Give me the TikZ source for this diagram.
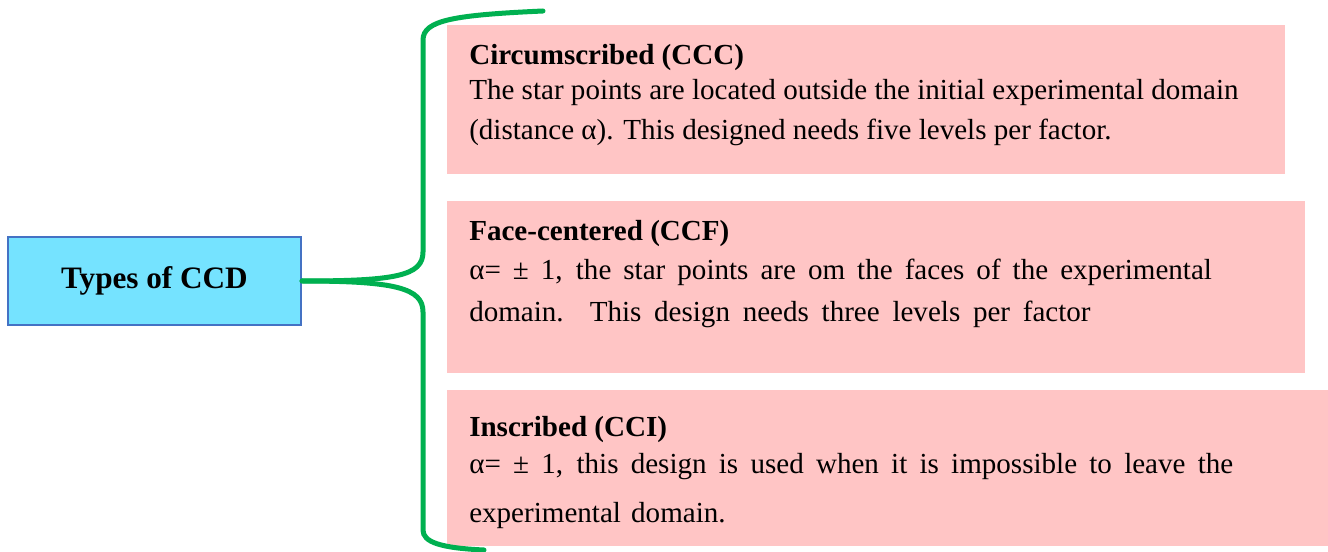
\documentclass[tikz,border=0pt]{standalone}
\usepackage{fontspec}
\setmainfont{Liberation Serif}
\definecolor{boxpink}{RGB}{255,197,197}
\definecolor{ccdfill}{RGB}{117,227,255}
\definecolor{ccdborder}{RGB}{68,114,196}
\definecolor{bracegreen}{RGB}{0,176,80}
\begin{document}
\begin{tikzpicture}[x=0.75pt,y=-0.75pt,
  pinkbox/.style={fill=boxpink, draw=none, anchor=north west, inner sep=0pt},
  ccdbox/.style={fill=ccdfill, draw=ccdborder, line width=1.5pt, inner sep=0pt,
    minimum width=219.75pt, minimum height=66pt,
    font=\fontsize{23.4}{26}\selectfont\bfseries},
  txt/.style={anchor=base west, inner sep=0pt, font=\fontsize{21.8}{26}\selectfont},
  ttl/.style={txt, font=\fontsize{21.8}{26}\selectfont\bfseries},
  bracepath/.style={draw=bracegreen, line width=3.75pt, line cap=round}]
\useasboundingbox (0,0) rectangle (1328,552);
% boxes
\node[pinkbox, minimum width=628.5pt, minimum height=111.75pt] (b1) at (447,25) {};
\node[pinkbox, minimum width=643.5pt, minimum height=129pt] (b2) at (447,201) {};
\node[pinkbox, minimum width=660.75pt, minimum height=117pt] (b3) at (447,390) {};
\node[ccdbox] (ccd) at (154.5,281) {Types of CCD};
% texts box 1
\node[ttl] (t1) at (469,65) {Circumscribed (CCC)};
\node[txt] (t1a) at (469,100) {The star points are located outside the initial experimental domain};
\node[txt] (t1b) at (469,140) {(distance α). This designed needs five levels per factor.};
% texts box 2
\node[ttl] (t2) at (469,241) {Face-centered (CCF)};
\node[txt] (t2a) at (469,280) {\makebox[557pt][s]{α= ± 1, the star points are om the faces of the experimental}};
\node[txt] (t2b) at (469,322) {\makebox[466pt][s]{domain. This design needs three levels per factor}};
% texts box 3
\node[ttl] (t3) at (469,436) {Inscribed (CCI)};
\node[txt] (t3a) at (469,473) {\makebox[573pt][s]{α= ± 1, this design is used when it is impossible to leave the}};
\node[txt] (t3b) at (469,522) {experimental\hspace{0.35em}domain.};
% brace
\coordinate (tb) at (543,11);
\coordinate (bb) at (484,550);
\draw[bracepath] (ccd.east) .. controls (395,281) and (423,276) .. (423,252)
  -- (423,40) .. controls (423,20) and (455,15) .. (tb);
\draw[bracepath] (ccd.east) .. controls (395,281) and (423,288) .. (423,312)
  -- (423,530) .. controls (423,542) and (440,548) .. (bb);
\end{tikzpicture}
\end{document}
